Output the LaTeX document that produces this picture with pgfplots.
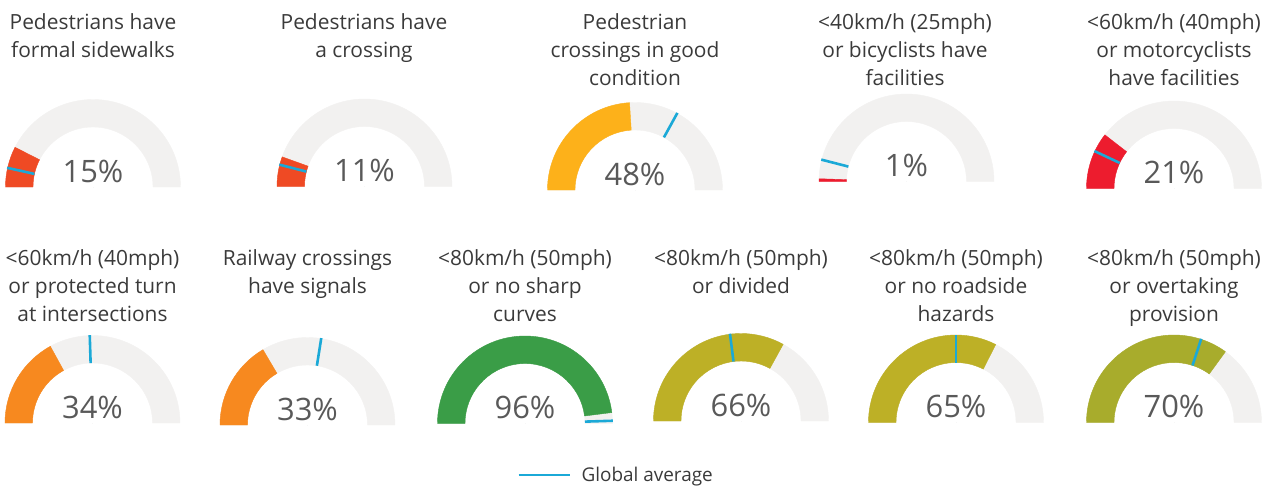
\documentclass[border=0pt]{standalone}
\usepackage{pgfplots}
\pgfplotsset{compat=1.18}
\usepackage{fontspec}
\setmainfont{Open Sans}
\definecolor{ggray}{HTML}{F2F1F0}
\definecolor{gblue}{HTML}{1BA9D7}
\definecolor{cA}{HTML}{EF4A24}
\definecolor{cB}{HTML}{FDB11A}
\definecolor{cC}{HTML}{ED1C2E}
\definecolor{cD}{HTML}{F7891F}
\definecolor{cE}{HTML}{3A9D47}
\definecolor{cF}{HTML}{BDB026}
\definecolor{cG}{HTML}{A8AC2C}
\definecolor{ttl}{HTML}{3A3A3A}
\definecolor{pct}{HTML}{595959}

\pgfplotsset{
  gauge/.style={scatter, only marks, mark=*, mark size=0pt,
    mark options={draw=none, fill=none},
    point meta=explicit symbolic, forget plot,
    scatter/@pre marker code/.code={%
      \begin{scope}
      \pgfmathsetmacro\gend{180-1.8*\pgfplotspointmeta}%
      \fill[ggray] (180:87.5bp) arc[start angle=180, end angle=0, radius=87.5bp]
         -- (0:60bp) arc[start angle=0, end angle=180, radius=60bp] -- cycle;
      \fill[#1] (180:87.5bp) arc[start angle=180, end angle=\gend, radius=87.5bp]
         -- (\gend:60bp) arc[start angle=\gend, end angle=180, radius=60bp] -- cycle;
      \node[anchor=base, inner sep=0pt, text=pct, font=\fontsize{31}{36}\selectfont] at (0bp,5bp) {\pgfplotspointmeta\%};
      \end{scope}%
    },
    scatter/@post marker code/.code={}},
  avgtick/.style={scatter, only marks, mark=*, mark size=0pt,
    mark options={draw=none, fill=none},
    point meta=explicit symbolic, forget plot,
    scatter/@pre marker code/.code={%
      \begin{scope}
      \pgfmathsetmacro\gang{180-1.8*\pgfplotspointmeta}%
      \draw[gblue, line width=2.6bp] (\gang:60bp) -- (\gang:88bp);
      \end{scope}%
    },
    scatter/@post marker code/.code={}},
}

\newcommand\tl[3]{\node[font=\fontsize{21}{25}\selectfont, text=ttl, anchor=base, inner sep=0pt] at (axis cs:#1,#2) {#3};}

\begin{document}
\begin{tikzpicture}
\begin{axis}[
  scale only axis, width=1263bp, height=488bp,
  xmin=0, xmax=1263, ymin=0, ymax=488, y dir=reverse,
  hide axis, clip=false,
  legend style={at={(axis cs:616,475)}, anchor=center, draw=none, fill=none,
    font=\fontsize{19}{23}\selectfont, text=ttl},
  legend image code/.code={\draw[#1] (0bp,0bp) -- (51bp,0bp); \path[draw=none] (0bp,0bp) -- (61bp,0bp);},
]
\path[draw=none] (axis cs:0,0) rectangle (axis cs:1263,488);
% gauge centre (image px) [share of roads, %]
\addplot[gauge=cA] coordinates {(93,187) [15] (364.5,186.5) [11]};
\addplot[gauge=cB] coordinates {(635,190) [48]};
\addplot[gauge=cC] coordinates {(906.5,181.5) [1] (1174,188.5) [21]};
\addplot[gauge=cD] coordinates {(92.5,423) [34] (307.5,425) [33]};
\addplot[gauge=cE] coordinates {(525,423.5) [96]};
\addplot[gauge=cF] coordinates {(741,421) [66] (956,422.5) [65]};
\addplot[gauge=cG] coordinates {(1174,422.5) [70]};
% global average [%]
\addplot[avgtick] coordinates {
 (93,187) [7] (364.5,186.5) [8] (635,190) [66] (906.5,181.5) [8] (1174,188.5) [14]
 (92.5,423) [49] (307.5,425) [55] (525,423.5) [99] (741,421) [46] (956,422.5) [50] (1174,422.5) [60]};
\addlegendimage{gblue, line width=2.8bp}
\addlegendentry{Global average}

\tl{93}{30}{Pedestrians have}
\tl{93}{58}{formal sidewalks}
\tl{364}{30}{Pedestrians have}
\tl{364}{58}{a crossing}
\tl{635}{30}{Pedestrian}
\tl{635}{58}{crossings in good}
\tl{635}{86}{condition}
\tl{905}{30}{<40km/h (25mph)}
\tl{905}{58}{or bicyclists have}
\tl{905}{86}{facilities}
\tl{1174}{30}{<60km/h (40mph)}
\tl{1174}{58}{or motorcyclists}
\tl{1174}{86}{have facilities}
\tl{92.5}{265}{<60km/h (40mph)}
\tl{92.5}{293}{or protected turn}
\tl{92.5}{321}{at intersections}
\tl{307.5}{265}{Railway crossings}
\tl{307.5}{293}{have signals}
\tl{525}{265}{<80km/h (50mph)}
\tl{525}{293}{or no sharp}
\tl{525}{321}{curves}
\tl{741}{265}{<80km/h (50mph)}
\tl{741}{293}{or divided}
\tl{956}{265}{<80km/h (50mph)}
\tl{956}{293}{or no roadside}
\tl{956}{321}{hazards}
\tl{1174}{265}{<80km/h (50mph)}
\tl{1174}{293}{or overtaking}
\tl{1174}{321}{provision}
\end{axis}
\end{tikzpicture}
\end{document}
